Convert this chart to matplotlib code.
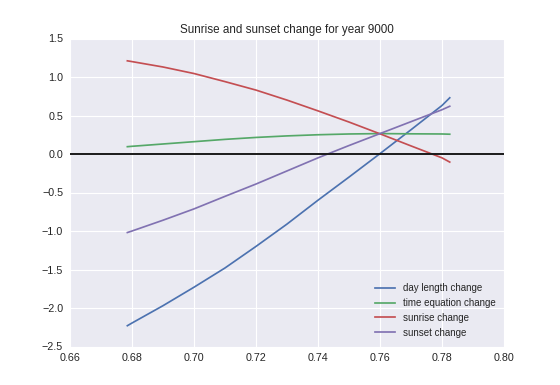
import numpy as np
import matplotlib
matplotlib.use("Agg")
import matplotlib.pyplot as plt

# values
x = [0.6785, 0.68, 0.69, 0.70, 0.71, 0.72, 0.73, 0.74, 0.75, 0.76, 0.77, 0.78, 0.7825]
day_length = [-2.23, -2.195, -1.97, -1.73, -1.48, -1.20, -0.91, -0.60, -0.30, 0.005, 0.315, 0.63, 0.73]
time_equation = [0.095, 0.10, 0.13, 0.16, 0.19, 0.215, 0.235, 0.25, 0.26, 0.265, 0.262, 0.26, 0.257]
sunrise = [1.21, 1.20, 1.13, 1.045, 0.94, 0.83, 0.70, 0.56, 0.415, 0.262, 0.105, -0.05, -0.105]
sunset = [-1.02, -1.00, -0.86, -0.713, -0.55, -0.39, -0.22, -0.05, 0.11, 0.265, 0.42, 0.575, 0.62]

labels = ['day length change', 'time equation change', 'sunrise change', 'sunset change']
colors = ['#4C72B0', '#55A868', '#C44E52', '#8172B2']

xticks = np.arange(0.66, 0.8001, 0.02)
yticks = np.arange(-2.5, 1.5001, 0.5)

plt.rcParams['font.family'] = ['Liberation Sans', 'DejaVu Sans']
plt.rcParams['axes.facecolor'] = '#EAEAF2'
plt.rcParams['text.color'] = '#262626'
plt.rcParams['xtick.color'] = '#262626'
plt.rcParams['ytick.color'] = '#262626'

fig = plt.figure(figsize=(8, 5.5), dpi=70)
fig.subplots_adjust(left=0.125, right=0.9, bottom=0.1, top=0.9)
ax = plt.subplot()

for series, label, color in zip([day_length, time_equation, sunrise, sunset], labels, colors):
    ax.plot(x, series, color=color, linewidth=1.75, label=label)

ax.axhline(0, color='#1a1a1a', linewidth=2)

ax.set_xlim([0.66, 0.80])
ax.set_ylim([-2.5, 1.5])
ax.set_xticks(xticks)
ax.set_yticks(yticks)
ax.set_xticklabels(['%.2f' % v for v in xticks])
ax.set_yticklabels([('%.1f' % v).replace('-', '\u2212') for v in yticks])
ax.tick_params(axis='both', labelsize=11, length=0, pad=7)
ax.grid(color='white', linewidth=1.2)
ax.set_axisbelow(True)
for spine in ax.spines.values():
    spine.set_visible(False)

ax.set_title('Sunrise and sunset change for year 9000', fontsize=12)
ax.legend(loc='lower right', frameon=False, fontsize=10)

fig.savefig('out.png', dpi=70)
